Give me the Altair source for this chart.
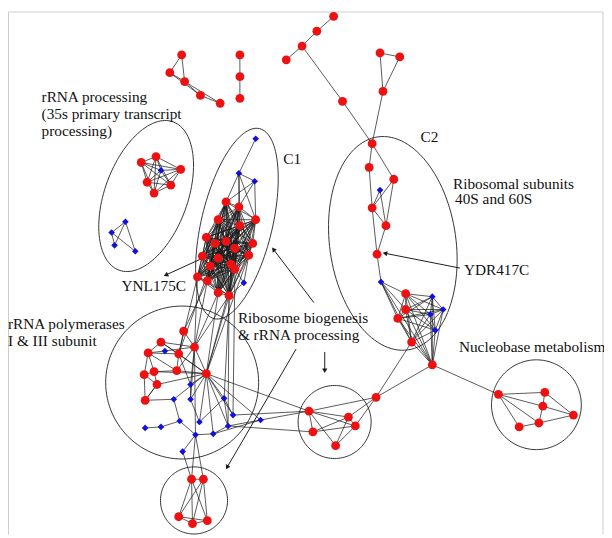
import math
import itertools
import altair as alt
import pandas as pd

# ---------------- data ----------------
# nodes: name, x, y, kind  (image pixel coordinates)
nodes = [
    ("a1", 184, 52, "r"), ("a2", 172, 70, "r"), ("a3", 187, 79, "r"), ("a4", 203, 93, "r"), ("a5", 223, 101, "r"),
    ("b1", 243, 52, "r"), ("b2", 243, 74, "r"), ("b3", 243, 96, "r"),
    ("c1", 338, 13, "r"), ("c2", 321, 28, "r"), ("c3", 306, 43, "r"), ("c4", 290, 57, "r"), ("c5", 347, 99, "r"), ("c6", 377, 142, "r"),
    ("d1", 385, 50, "r"), ("d2", 405, 54, "r"), ("d3", 388, 89, "r"),
    ("e1", 374, 166, "r"), ("e2", 399, 178, "r"), ("e3", 385, 189, "b"), ("e4", 377, 207, "r"), ("e5", 391, 225, "r"), ("e6", 382, 254, "r"),
    ("f0", 386, 282, "b"), ("f1", 411, 294, "r"), ("f2", 411, 310, "r"), ("f3", 403, 319, "r"), ("f4", 438, 297, "b"),
    ("f5", 449, 310, "b"), ("f6", 436, 315, "b"), ("f7", 441, 331, "b"), ("f8", 417, 343, "r"), ("f9", 438, 366, "r"),
    ("m", 381, 399, "r"),
    ("l0", 313, 413, "r"), ("l1", 353, 419, "r"), ("l2", 360, 428, "r"), ("l3", 317, 434, "r"), ("l4", 340, 448, "r"),
    ("n0", 505, 396, "r"), ("n1", 552, 394, "r"), ("n2", 550, 408, "r"), ("n3", 581, 417, "r"), ("n4", 546, 425, "r"), ("n5", 526, 429, "r"),
    ("t0", 143, 161, "r"), ("t1", 158, 155, "r"), ("t2", 183, 168, "r"), ("t3", 149, 181, "r"), ("t4", 173, 184, "r"), ("t5", 156, 192, "r"), ("t6", 163, 169, "b"),
    ("u0", 127, 221, "b"), ("u1", 113, 232, "b"), ("u2", 116, 245, "b"), ("u3", 137, 251, "b"),
    ("g0", 259, 137, "b"), ("g1", 242, 172, "b"), ("g2", 258, 180, "b"), ("g3", 247, 283, "b"),
    ("k0", 229, 201, "r"), ("k1", 242, 206, "r"), ("k2", 221, 219, "r"), ("k3", 243, 225, "r"), ("k4", 259, 219, "r"),
    ("k5", 209, 237, "r"), ("k6", 218, 243, "r"), ("k7", 229, 241, "r"), ("k8", 256, 243, "r"), ("k9", 238, 248, "r"),
    ("k10", 205, 256, "r"), ("k11", 221, 258, "r"), ("k12", 252, 255, "r"), ("k13", 213, 266, "r"), ("k14", 234, 264, "r"),
    ("k15", 238, 269, "r"), ("k16", 200, 277, "r"), ("k17", 210, 281, "r"), ("k18", 221, 293, "r"), ("k19", 232, 296, "r"),
    ("p0", 186, 332, "r"), ("p1", 163, 343, "r"), ("p2", 150, 354, "r"), ("p3", 181, 355, "r"), ("p4", 197, 348, "r"),
    ("p5", 167, 352, "b"), ("p6", 146, 376, "r"), ("p7", 156, 373, "r"), ("p8", 179, 372, "r"), ("p9", 209, 375, "r"),
    ("p10", 159, 386, "r"), ("p11", 147, 402, "r"), ("p12", 193, 386, "b"), ("p13", 176, 401, "b"), ("p14", 193, 401, "b"),
    ("p15", 227, 400, "b"), ("p16", 147, 430, "b"), ("p17", 163, 429, "b"), ("p18", 182, 423, "b"), ("p19", 202, 424, "b"),
    ("p20", 236, 417, "b"), ("p21", 231, 428, "b"), ("p22", 216, 436, "b"), ("p23", 198, 437, "b"), ("p24", 185, 454, "b"),
    ("p25", 264, 422, "b"),
    ("q0", 194, 482, "r"), ("q1", 206, 482, "r"), ("q2", 181, 520, "r"), ("q3", 195, 527, "r"), ("q4", 210, 524, "r"),
]

# densely connected groups (every pair linked)
cliques = [
    ["t0", "t1", "t2", "t3", "t4", "t5", "t6"],
    ["k%d" % i for i in range(20)],
    ["f1", "f2", "f3", "f4", "f5", "f6", "f7", "f8", "f9"],
]

edges = [
    ("a1", "a2"), ("a1", "a3"), ("a2", "a3"), ("a2", "a4"), ("a3", "a4"), ("a3", "a5"), ("a4", "a5"),
    ("b1", "b2"), ("b2", "b3"),
    ("c1", "c2"), ("c2", "c3"), ("c3", "c4"), ("c3", "c5"), ("c5", "c6"),
    ("d1", "d2"), ("d1", "d3"), ("d2", "d3"), ("d3", "c6"),
    ("c6", "e1"), ("c6", "e2"), ("e1", "e4"), ("e2", "e4"), ("e3", "e4"), ("e3", "e5"), ("e2", "e5"),
    ("e4", "e5"), ("e4", "e6"), ("e5", "e6"), ("e6", "f0"),
    ("f0", "f1"), ("f0", "f2"), ("f0", "f3"), ("f0", "f8"), ("f0", "f9"),
    ("m", "f8"), ("m", "f9"), ("m", "l0"), ("m", "l1"), ("m", "l2"),
    ("l0", "l1"), ("l0", "l2"), ("l0", "l3"), ("l0", "l4"), ("l1", "l2"), ("l1", "l3"), ("l2", "l3"), ("l2", "l4"), ("l1", "l4"),
    ("f9", "n0"), ("n0", "n1"), ("n0", "n2"), ("n0", "n4"), ("n0", "n5"), ("n1", "n3"), ("n2", "n3"),
    ("n2", "n4"), ("n3", "n4"), ("n4", "n5"), ("n1", "n2"),
    ("u0", "u1"), ("u0", "u2"), ("u0", "u3"), ("u1", "u2"), ("u1", "u3"),
    ("g0", "g1"), ("g1", "g2"), ("g1", "k0"), ("g1", "k3"), ("g1", "k4"), ("g2", "k0"), ("g2", "k4"), ("g2", "k1"), ("g1", "k1"),
    ("g3", "k12"), ("g3", "k15"), ("g3", "k19"),
    ("k16", "p4"), ("k17", "p4"), ("k18", "p4"), ("k19", "p9"), ("k18", "p9"), ("k16", "p3"), ("k17", "p0"),
    ("k19", "p4"), ("k15", "p9"), ("k12", "p9"), ("k13", "p3"), ("k19", "p21"), ("k15", "p20"), ("k14", "p15"),
    ("p0", "p3"), ("p0", "p4"), ("p1", "p2"), ("p1", "p3"), ("p1", "p4"), ("p2", "p5"), ("p2", "p6"), ("p2", "p7"),
    ("p2", "p3"), ("p5", "p4"), ("p3", "p9"), ("p4", "p9"), ("p4", "p8"), ("p3", "p8"), ("p6", "p7"), ("p6", "p10"),
    ("p6", "p11"), ("p7", "p10"), ("p7", "p8"), ("p7", "p9"), ("p8", "p9"), ("p10", "p9"), ("p10", "p11"),
    ("p11", "p13"), ("p12", "p9"), ("p13", "p9"), ("p14", "p9"), ("p15", "p9"), ("p19", "p9"), ("p20", "p9"),
    ("p21", "p9"), ("p22", "p9"), ("p9", "p25"), ("p4", "p23"), ("p16", "p17"), ("p17", "p18"), ("p18", "p23"),
    ("p19", "p15"), ("p15", "p20"), ("p15", "p21"), ("p21", "p22"), ("p22", "p23"), ("p23", "p24"),
    ("p21", "p25"), ("p22", "p25"), ("p12", "p14"), ("p14", "p19"), ("p13", "p18"), ("p3", "p12"), ("p4", "p12"),
    ("p4", "p14"), ("p2", "p8"), ("p1", "p9"), ("p11", "p10"),
    ("p25", "l0"), ("p9", "l0"), ("p21", "l3"), ("p20", "l0"),
    ("p23", "q0"), ("p23", "q1"), ("p24", "q0"),
    ("q0", "q1"), ("q0", "q2"), ("q0", "q4"), ("q0", "q3"), ("q1", "q2"), ("q1", "q3"), ("q1", "q4"),
    ("q2", "q3"), ("q2", "q4"), ("q3", "q4"),
]

# outline ellipses: centre x, centre y, semi-major, semi-minor, tilt of major axis from vertical (deg)
ellipse_cx = [148, 240, 398, 184.5, 196.5, 339, 543.5]
ellipse_cy = [195, 223, 243, 384, 503.5, 424, 406.5]
ellipse_a = [80, 99, 109, 77.5, 34, 37, 45.5]
ellipse_b = [42, 36, 64, 77.5, 34, 37, 45.5]
ellipse_tilt = [20, 13.4, -8, 0, 0, 0, 0]

# annotation arrows: start -> end (arrowhead at end)
arrow_x1 = [203, 466, 318, 329, 300]
arrow_y1 = [259, 268, 303, 353, 350]
arrow_x2 = [168, 390, 277, 329, 230]
arrow_y2 = [275, 253, 249, 372, 470]

# labels (left x, baseline y)
label_text = ["rRNA processing", "(35s primary transcript", "processing)", "C1", "C2",
              "Ribosomal subunits", "40S and 60S", "YDR417C", "YNL175C",
              "rRNA polymerases", "I & III subunit", "Ribosome biogenesis",
              "& rRNA processing", "Nucleobase metabolism"]
label_x = [42, 42, 42, 287, 426, 459, 461, 470, 123, 8, 8, 241, 241, 465]
label_y = [100, 117, 134, 163, 140, 188, 203, 275, 291, 330, 347, 324, 341, 353]

# ---------------- build tables ----------------
pos = {n: (x, y) for n, x, y, k in nodes}
node_df = pd.DataFrame(nodes, columns=["name", "x", "y", "kind"])

all_edges = list(edges)
for group in cliques:
    all_edges += list(itertools.combinations(group, 2))
edge_df = pd.DataFrame([
    {"x": pos[a][0], "y": pos[a][1], "x2": pos[b][0], "y2": pos[b][1]} for a, b in all_edges
])

ell_rows = []
for i in range(len(ellipse_cx)):
    phi = math.radians(ellipse_tilt[i])
    for j in range(121):
        t = 2 * math.pi * j / 120
        u = ellipse_b[i] * math.cos(t)
        v = ellipse_a[i] * math.sin(t)
        ell_rows.append({
            "eid": i, "ord": j,
            "x": ellipse_cx[i] + u * math.cos(phi) + v * math.sin(phi),
            "y": ellipse_cy[i] + u * math.sin(phi) - v * math.cos(phi),
        })
ell_df = pd.DataFrame(ell_rows)

arrow_df = pd.DataFrame({"x": arrow_x1, "y": arrow_y1, "x2": arrow_x2, "y2": arrow_y2})
arrow_df["ang"] = [
    math.degrees(math.atan2(x2 - x1, -(y2 - y1))) % 360
    for x1, y1, x2, y2 in zip(arrow_x1, arrow_y1, arrow_x2, arrow_y2)
]
label_df = pd.DataFrame({"x": label_x, "y": label_y, "text": label_text})

# ---------------- chart ----------------
xs = alt.Scale(domain=[8, 612], nice=False, zero=False)
ys = alt.Scale(domain=[8, 538], nice=False, zero=False, reverse=True)
X = lambda f: alt.X(f, type="quantitative", scale=xs, axis=None)
Y = lambda f: alt.Y(f, type="quantitative", scale=ys, axis=None)

frame = alt.Chart(pd.DataFrame({"x": [8.5, 8.5, 611], "y": [8.5, 8.5, 8.5],
                                "x2": [611, 8.5, 611], "y2": [8.5, 538, 538]})).mark_rule(
    color="#cccccc", strokeWidth=1).encode(x=X("x"), y=Y("y"), x2="x2", y2="y2")

ellipses = alt.Chart(ell_df).mark_line(color="#333333", strokeWidth=1).encode(
    x=X("x"), y=Y("y"), detail="eid:N", order="ord:Q")

edge_layer = alt.Chart(edge_df).mark_rule(color="#1a1a1a", strokeWidth=0.8, opacity=0.9).encode(
    x=X("x"), y=Y("y"), x2="x2", y2="y2")

arrow_lines = alt.Chart(arrow_df).mark_rule(color="#1a1a1a", strokeWidth=1).encode(
    x=X("x"), y=Y("y"), x2="x2", y2="y2")
arrow_heads = alt.Chart(arrow_df).mark_point(shape="triangle-up", filled=True, color="#1a1a1a",
                                              size=28, opacity=1).encode(
    x=X("x2"), y=Y("y2"), angle=alt.Angle("ang:Q", scale=None))

red_nodes = alt.Chart(node_df[node_df.kind == "r"]).mark_point(
    shape="circle", filled=True, color="#ee1111", size=80, opacity=1).encode(x=X("x"), y=Y("y"))
blue_nodes = alt.Chart(node_df[node_df.kind == "b"]).mark_point(
    shape="diamond", filled=True, color="#1111dd", size=45, opacity=1).encode(x=X("x"), y=Y("y"))

labels = alt.Chart(label_df).mark_text(align="left", baseline="alphabetic",
                                       font="'Liberation Serif', 'Times New Roman', 'DejaVu Serif', serif",
                                       fontSize=15.5, color="#111111").encode(
    x=X("x"), y=Y("y"), text="text:N")

chart = alt.layer(frame, ellipses, edge_layer, arrow_lines, arrow_heads, red_nodes, blue_nodes, labels).properties(
    width=604, height=530, padding=0, autosize=alt.AutoSizeParams(type="none")
).configure_view(stroke=None)

chart.save("out.html", embed_options={"renderer": "svg", "actions": False})
